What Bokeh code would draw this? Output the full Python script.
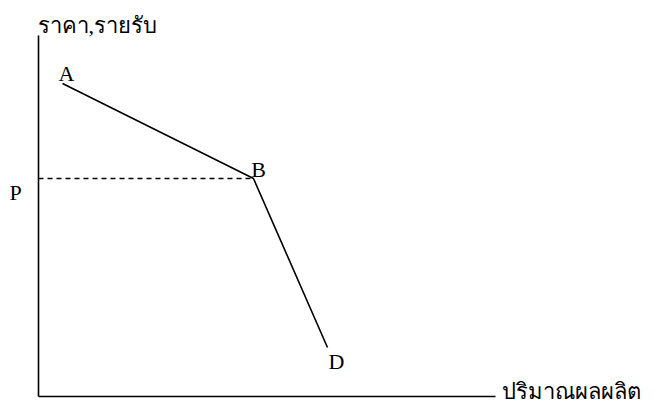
from bokeh.plotting import figure
from bokeh.models import ColumnDataSource
from bokeh.core.properties import value
from bokeh.embed import file_html
from bokeh.resources import INLINE

# Axis extents (quantity, price) with origin at (0, 0)
axis_x_end = 457
axis_y_end = 361

# Kinked demand curve points A -> B -> D
curve_names = ["A", "B", "D"]
curve_q = [24, 215, 289]
curve_p = [313, 218, 49]

# Price level P at the kink
price_P = 218

# Point labels (name, position)
label_text = ["A", "B", "D", "P"]
label_q = [28, 220, 298, -23]
label_p = [323, 227, 35, 204]

y_title = "ราคา,รายรับ"
x_title = "ปริมาณผลผลิต"

W, H = 647, 404
p = figure(width=W, height=H, output_backend="svg", toolbar_location=None,
           x_range=(-38, W - 38), y_range=(-8, H - 8),
           min_border=0, x_axis_type=None, y_axis_type=None)
p.grid.visible = False
p.outline_line_color = None
p.background_fill_color = "white"
p.border_fill_color = "white"

# axes
p.line([0, 0], [0, axis_y_end], line_color="black", line_width=1.6)
p.line([0, axis_x_end], [0, 0], line_color="black", line_width=1.6)

# demand curve
p.line(curve_q, curve_p, line_color="black", line_width=1.6)

# dashed line at P
p.line([0, curve_q[1]], [price_P, price_P], line_color="black",
       line_width=1.4, line_dash="5 4")

src = ColumnDataSource(dict(x=label_q, y=label_p, t=label_text))
p.text(x="x", y="y", text="t", source=src, text_font=value("Liberation Serif"),
       text_font_size="22px", text_align="center", text_baseline="middle",
       text_color="black")

p.text(x=[-1], y=[371], text=[y_title], text_font=value("Liberation Serif"),
       text_font_size="22px", text_align="left", text_baseline="middle",
       text_color="black")
p.text(x=[463], y=[-7], text=[x_title], text_font=value("Liberation Serif"),
       text_font_size="22px", text_align="left", text_baseline="bottom",
       text_color="black")

open("out.html", "w").write(file_html(p, INLINE))
